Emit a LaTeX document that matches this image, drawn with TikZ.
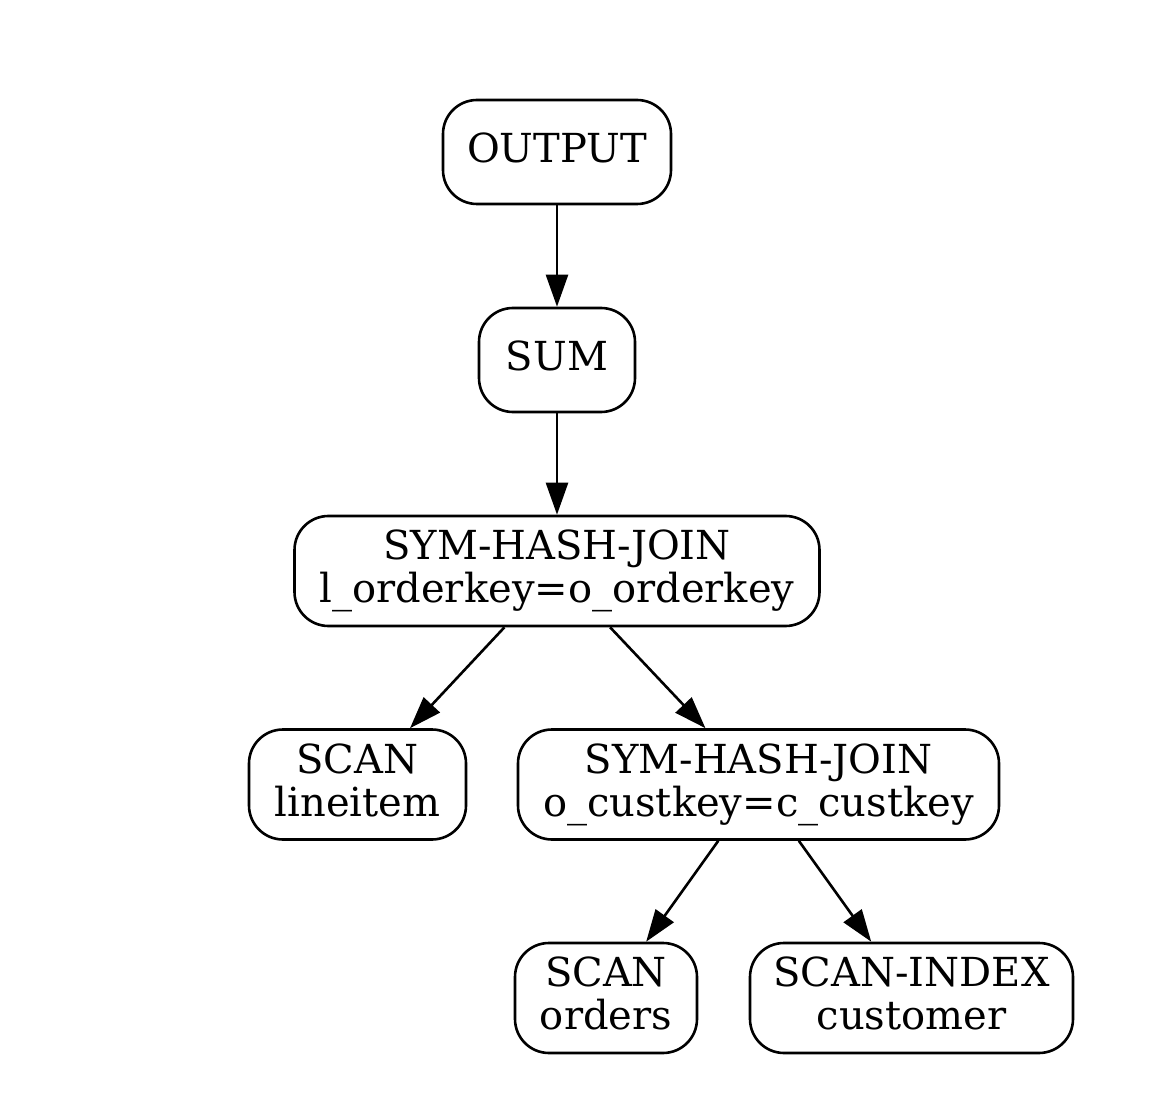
\documentclass[tikz,border=0pt]{standalone}
\usepackage{fontspec}
\setmainfont{DejaVu Serif}
\usetikzlibrary{arrows.meta}
\tikzstyle{op}=[draw,line width=1.3pt,rounded corners=17pt,inner sep=0pt,align=center,text depth=4.5pt,font=\fontsize{20}{21.5}\selectfont]
\tikzstyle{arr} = [draw,line width=1.3pt,-{Triangle[length=16pt,width=11pt]}]

\begin{document}
\begin{tikzpicture}[x=0.5pt,y=-0.5pt]
    \useasboundingbox (0,0) rectangle (1174,1107);
    \foreach \pos/\name/\w/\h/\val in {{(557,152)/out/228/104/OUTPUT},
    {(557,360)/sum/156/104/SUM},
    {(557,571)/joinA/525/110/SYM-HASH-JOIN\\l\_orderkey=o\_orderkey},
    {(357.5,784.5)/lineitem/217/110/SCAN\\lineitem},
    {(758.5,784.5)/joinB/481/110/SYM-HASH-JOIN\\o\_custkey=c\_custkey},
    {(606,998)/orders/182/110/SCAN\\orders},
    {(911.5,998)/customer/323/110/SCAN-INDEX\\customer}}
        \node[op,minimum width=\w*0.5pt,minimum height=\h*0.5pt] (\name) at \pos {\val};
    \foreach \source/\dest in {out/sum,sum/joinA,joinA/lineitem,joinA/joinB,
    joinB/orders,joinB/customer}
        \path[arr] (\source) -- (\dest);
\end{tikzpicture}
\end{document}
